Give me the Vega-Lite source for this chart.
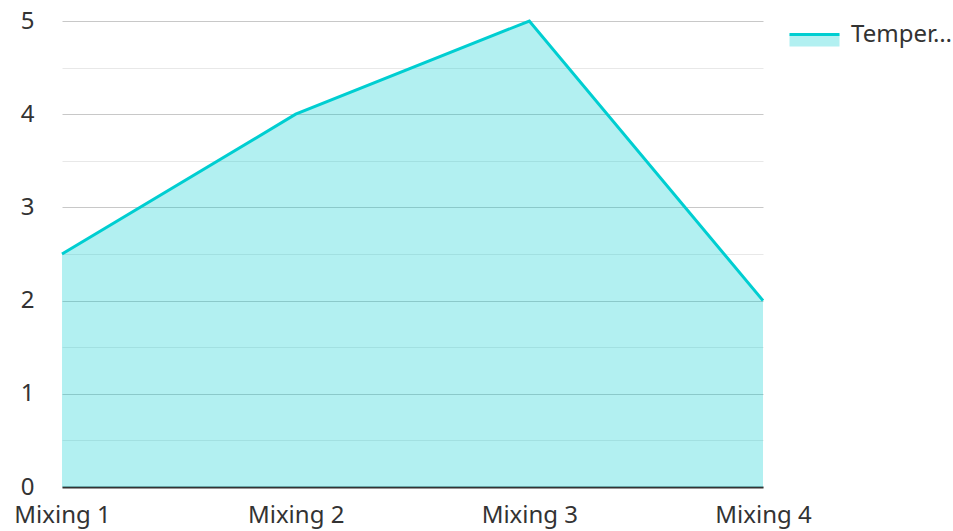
{
  "$schema": "https://vega.github.io/schema/vega-lite/v6.json",
  "width": 701,
  "height": 466,
  "autosize": {"type": "none"},
  "padding": {"left": 62, "top": 21, "right": 190, "bottom": 44},
  "background": "white",
  "config": {"font": "Noto Sans", "view": {"stroke": null}},
  "data": {
    "values": [
      {"stage": "Mixing 1", "value": 2.5, "series": "Temperature"},
      {"stage": "Mixing 2", "value": 4, "series": "Temperature"},
      {"stage": "Mixing 3", "value": 5, "series": "Temperature"},
      {"stage": "Mixing 4", "value": 2, "series": "Temperature"}
    ]
  },
  "encoding": {
    "x": {
      "field": "stage",
      "type": "ordinal",
      "sort": null,
      "scale": {"type": "point", "padding": 0},
      "axis": {
        "title": null,
        "labelAngle": 0,
        "labelFontSize": 24,
        "labelColor": "#333333",
        "labelPadding": 16,
        "labelFlush": false,
        "ticks": false,
        "domain": true,
        "domainColor": "#333333",
        "domainWidth": 2,
        "grid": false
      }
    },
    "y": {
      "field": "value",
      "type": "quantitative",
      "scale": {"domain": [0, 5], "nice": false},
      "axis": {
        "title": null,
        "values": [0, 0.5, 1, 1.5, 2, 2.5, 3, 3.5, 4, 4.5, 5],
        "labelExpr": "datum.value % 1 === 0 ? format(datum.value, 'd') : ''",
        "gridColor": {"condition": {"test": "datum.value % 1 === 0", "value": "#c8c8c8"}, "value": "#e8e8e8"},
        "gridWidth": 1,
        "domain": false,
        "ticks": false,
        "labelFontSize": 24,
        "labelColor": "#333333",
        "labelPadding": 28
      }
    }
  },
  "layer": [
    {
      "mark": {"type": "area", "color": "#00CED1", "fillOpacity": 0.3}
    },
    {
      "mark": {"type": "line", "strokeWidth": 3},
      "encoding": {
        "stroke": {
          "field": "series",
          "type": "nominal",
          "scale": {"range": ["#00CED1"]},
          "legend": {
            "title": null,
            "orient": "none",
            "legendX": 726,
            "legendY": -13,
            "padding": 0,
            "symbolType": "M-1,0H1V0.48H-1Z",
            "symbolSize": 2500,
            "labelFontSize": 24,
            "labelColor": "#333333",
            "labelLimit": 105,
            "labelOffset": 10,
            "encode": {
              "symbols": {
                "update": {
                  "fill": {"value": "#b2f0f1"},
                  "fillOpacity": {"value": 1},
                  "stroke": {"value": "#00CED1"},
                  "strokeWidth": {"value": 3},
                  "strokeDash": {"value": [50, 1000]}
                }
              }
            }
          }
        }
      }
    }
  ]
}
